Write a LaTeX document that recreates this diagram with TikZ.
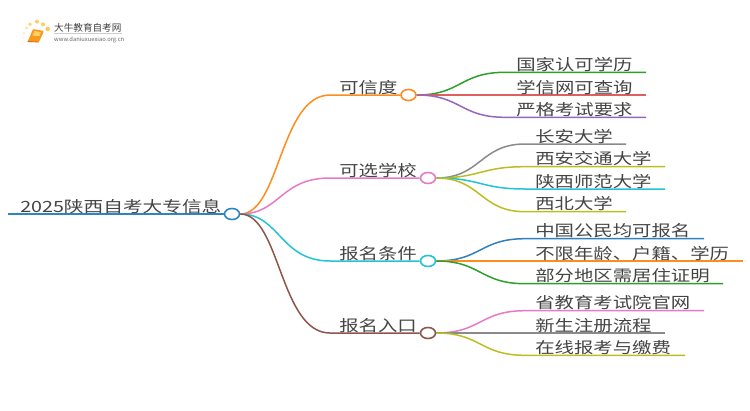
\documentclass[tikz,border=0pt]{standalone}
\usepackage{fontspec}
\setmainfont{Noto Sans CJK SC}
\usetikzlibrary{shapes.geometric}
\definecolor{txt}{HTML}{444444}
\definecolor{cRoot}{HTML}{2E86C1}
\definecolor{cOrange}{HTML}{FF8C1E}
\definecolor{cPink}{HTML}{E77AC6}
\definecolor{cCyan}{HTML}{22C3D6}
\definecolor{cBrown}{HTML}{8C564B}
\definecolor{cGreen}{HTML}{2CA02C}
\definecolor{cRed}{HTML}{DD5F5F}
\definecolor{cPurple}{HTML}{9467BD}
\definecolor{cGray}{HTML}{8A8A8A}
\definecolor{cOlive}{HTML}{BDBD22}
\definecolor{cBlue}{HTML}{2F80BD}
\definecolor{cDot}{HTML}{FFC850}
\definecolor{cBook}{HTML}{F59A1E}
\definecolor{cBookDark}{HTML}{E0700F}
\definecolor{cBookLight}{HTML}{FFD060}
\tikzset{
  lab/.style={anchor=base west,inner sep=0pt,text=txt,font=\fontsize{15.5}{15.5}\selectfont,transform shape,xscale=1.25},
  rootlab/.style={anchor=base west,inner sep=0pt,text=txt,font=\fontsize{15.5}{15.5}\selectfont,transform shape,xscale=1.27},
  hub/.style={ellipse,draw=#1,fill=white,line width=1.6pt,minimum width=15pt,minimum height=11pt,inner sep=0pt},
  edge/.style={draw=#1,line width=1.5pt},
}
\begin{document}
\begin{tikzpicture}[x=1pt,y=-1pt]
\useasboundingbox (0,0) rectangle (750,410);
% logo
\foreach \px/\py/\pr/\po in {30/24.3/1.9/.8,37/21.7/2/.9,43/24.3/2/.9,47.7/29/2.3/1,26.7/28/1.5/.6,24/33/1.2/.45,23/38/1/.3,23.5/43/.8/.2}
  \fill[cDot,opacity=\po] (\px,\py) circle (\pr);
\fill[cBook,rounded corners=1pt] (33,29) -- (44,31) -- (39,42) -- (27.5,42) -- cycle;
\fill[cBookLight] (34.5,31) -- (41,32.2) -- (39.5,36) -- (32.5,35.5) -- cycle;
\draw[cBookDark,line width=.8pt] (27.5,41.5) -- (39,42);
\node[anchor=base west,inner sep=0pt,text=black!75,font=\fontsize{9.6}{10}\selectfont] (logoa) at (54,31.5) {大牛教育自考网};
\draw[black!20,line width=.5pt] (54,33.5) -- (122,33.5);
\node[anchor=base west,inner sep=0pt,text=black!60,font=\fontsize{5.8}{6}\selectfont] (logob) at (54,41) {www.daniuxuexiao.org.cn};
% hubs
\node[hub=cRoot] (root) at (232,214) {};
\node[hub=cOrange] (b1) at (408.5,95) {};
\node[hub=cPink] (b2) at (428,178) {};
\node[hub=cCyan] (b3) at (428,261) {};
\node[hub=cBrown] (b4) at (428,333) {};
% root
\coordinate (r0) at (8,214);
\draw[edge=cRoot] (r0) -- (root.west);
\node[rootlab] (tr) at (20,212) {2025陕西自考大专信息};
% main branches
\coordinate (b1s) at (330,95);\coordinate (b2s) at (330,178);\coordinate (b3s) at (330,261);\coordinate (b4s) at (330,333);
\draw[edge=cOrange] (root.east) .. controls (280,214) and (280,95) .. (b1s) -- (b1.west);
\draw[edge=cPink] (root.east) .. controls (280,214) and (280,178) .. (b2s) -- (b2.west);
\draw[edge=cCyan] (root.east) .. controls (280,214) and (280,261) .. (b3s) -- (b3.west);
\draw[edge=cBrown] (root.east) .. controls (280,214) and (280,333) .. (b4s) -- (b4.west);
\node[lab] (t1) at (339,93) {可信度};
\node[lab] (t2) at (339,176) {可选学校};
\node[lab] (t3) at (339,259) {报名条件};
\node[lab] (t4) at (339,331) {报名入口};
% leaves
\foreach \hub/\hx/\hy/\nm/\sx/\tx/\y/\ex/\col/\txtl in {
 b1/416/95/a1/505/516/72.3/646/cGreen/国家认可学历,
 b1/416/95/a2/505/516/95/646/cRed/学信网可查询,
 b1/416/95/a3/505/516/117.3/646/cPurple/严格考试要求,
 b2/436/178/c1/525/535/144/626/cGray/长安大学,
 b2/436/178/c2/525/535/166.7/665/cOlive/西安交通大学,
 b2/436/178/c3/525/535/189/665/cCyan/陕西师范大学,
 b2/436/178/c4/525/535/211.7/626/cOlive/西北大学,
 b3/436/261/d1/525/535/238.7/704/cBlue/中国公民均可报名,
 b3/436/261/d2/525/535/261/743/cOrange/不限年龄、户籍、学历,
 b3/436/261/d3/525/535/283.7/723/cGreen/部分地区需居住证明,
 b4/436/333/e1/525/535/310.7/704/cPink/省教育考试院官网,
 b4/436/333/e2/525/535/333/665/cGray/新生注册流程,
 b4/436/333/e3/525/535/355.3/685/cOlive/在线报考与缴费}{
  \coordinate (\nm s) at (\sx,\y);
  \coordinate (\nm e) at (\ex,\y);
  \draw[edge=\col] (\hub.east) .. controls (\hx+45,\hy) and (\sx-45,\y) .. (\nm s) -- (\nm e);
  \node[lab] (\nm t) at (\tx,\y-2) {\txtl};
}
\end{tikzpicture}
\end{document}
